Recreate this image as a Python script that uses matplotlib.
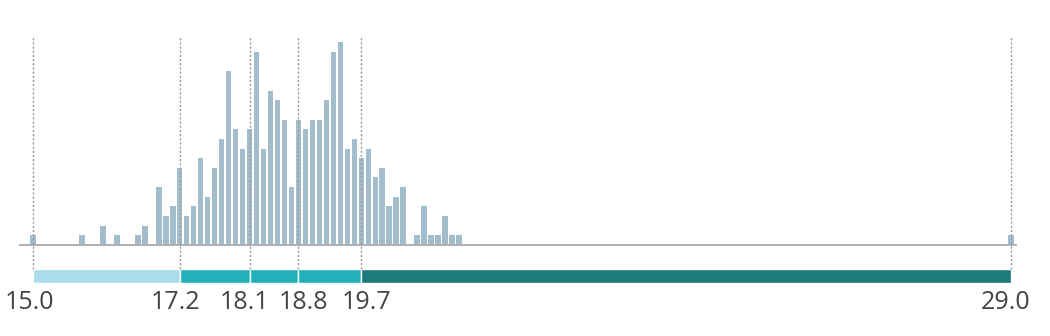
import matplotlib
matplotlib.use('Agg')
import matplotlib.pyplot as plt
from matplotlib.transforms import offset_copy

plt.rcParams['font.family'] = ['Open Sans', 'DejaVu Sans']

# histogram bins (bin value, count)
bin_values = [15.0, 15.7, 16.0, 16.2, 16.5, 16.6, 16.8, 16.9, 17.0, 17.1,
              17.2, 17.3, 17.4, 17.5, 17.6, 17.7, 17.8, 17.9, 18.0, 18.1,
              18.2, 18.3, 18.4, 18.5, 18.6, 18.7, 18.8, 18.9, 19.0, 19.1,
              19.2, 19.3, 19.4, 19.5, 19.6, 19.7, 19.8, 19.9, 20.0, 20.1,
              20.2, 20.3, 20.5, 20.6, 20.7, 20.8, 20.9, 21.0, 21.1, 29.0]
counts = [1, 1, 2, 1, 1, 2, 6, 3, 4, 8,
          3, 4, 9, 5, 8, 11, 18, 12, 10, 12,
          20, 10, 16, 15, 13, 6, 13, 12, 13, 13,
          15, 20, 21, 10, 11, 9, 10, 7, 8, 4,
          5, 6, 1, 4, 1, 1, 3, 1, 1, 1]

# class breaks and their labels
break_pos = [15.0, 17.1, 18.1, 18.8, 19.7, 29.0]
break_labels = ['15.0', '17.2', '18.1', '18.8', '19.7', '29.0']
band_colors = ['#a8dde9', '#22b1bc', '#22b1bc', '#22b1bc', '#1d7b7e']
label_nudge = [-4, -4, -5, 5, 5, -5]  # px, labels pushed apart

fig = plt.figure(figsize=(10.5, 3.36), dpi=100)
ax = fig.add_axes([0, 0, 1, 1])
ax.set_xlim(14.5276, 29.5583)
ax.set_ylim(-9.43, 25.39)
ax.axis('off')

ax.bar(bin_values, counts, width=0.08, color='#a4bdcd', zorder=2)

# baseline
ax.plot([14.814, 29.072], [0, 0], color='#aaaaaa', lw=1.3, zorder=3)

# dotted break lines
for p in break_pos:
    ax.plot([p, p], [-2.49, 21.55], color='#9a9a9a', lw=1,
            linestyle=(0, (1.5, 1.5)), zorder=4)

# colour band
for i, c in enumerate(band_colors):
    left = break_pos[i]
    ax.barh(-3.2, break_pos[i + 1] - left, left=left, height=1.45,
            color=c, edgecolor='white', linewidth=1, zorder=3)

for p, lab, dx in zip(break_pos, break_labels, label_nudge):
    tr = offset_copy(ax.transData, fig=fig, x=dx, y=0, units='dots')
    ax.text(p, -5.95, lab, ha='center', va='center', fontsize=18,
            color='#444444', transform=tr)

fig.savefig('out.png', dpi=100)
